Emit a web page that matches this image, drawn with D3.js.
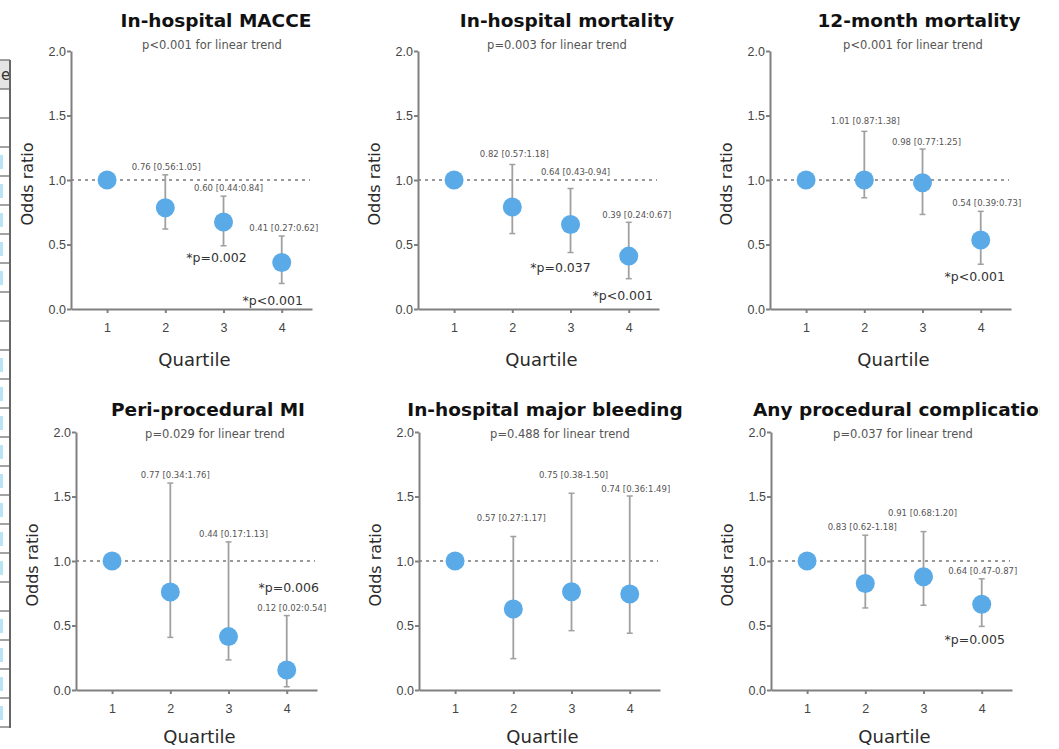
<!DOCTYPE html>
<meta charset="utf-8">
<style>
body { margin: 0; background: #fff; }
svg { display: block; font-family: "DejaVu Sans", Verdana, sans-serif; }
.axis path, .axis line { stroke: #808080; stroke-width: 2; }
.axis text { fill: #444; font-size: 12.5px; }
</style>
<body>
<script src="https://d3js.org/d3.v7.min.js"></script>
<script>

// chart data
var panelTitles = ["In-hospital MACCE", "In-hospital mortality", "12-month mortality",
                   "Peri-procedural MI", "In-hospital major bleeding", "Any procedural complication"];
var trendTexts = ["p<0.001 for linear trend", "p=0.003 for linear trend", "p<0.001 for linear trend",
                  "p=0.029 for linear trend", "p=0.488 for linear trend", "p=0.037 for linear trend"];
var quartiles = [1, 2, 3, 4];
var yTicks = [0, 0.5, 1, 1.5, 2];
var oddsRatios = [
  [1, 0.785, 0.674, 0.36],
  [1, 0.79, 0.655, 0.41],
  [1, 1.0, 0.978, 0.535],
  [1, 0.76, 0.414, 0.155],
  [1, 0.628, 0.762, 0.744],
  [1, 0.826, 0.878, 0.665]
];
var ciLower = [
  [null, 0.62, 0.49, 0.198],
  [null, 0.585, 0.438, 0.235],
  [null, 0.862, 0.733, 0.347],
  [null, 0.408, 0.233, 0.025],
  [null, 0.243, 0.46, 0.44],
  [null, 0.636, 0.657, 0.493]
];
var ciUpper = [
  [null, 1.04, 0.875, 0.566],
  [null, 1.12, 0.934, 0.672],
  [null, 1.377, 1.24, 0.757],
  [null, 1.604, 1.148, 0.577],
  [null, 1.19, 1.525, 1.504],
  [null, 1.20, 1.228, 0.862]
];
var ciLabels = [
  [null, "0.76 [0.56:1.05]", "0.60 [0.44:0.84]", "0.41 [0.27:0.62]"],
  [null, "0.82 [0.57:1.18]", "0.64 [0.43-0.94]", "0.39 [0.24:0.67]"],
  [null, "1.01 [0.87:1.38]", "0.98 [0.77:1.25]", "0.54 [0.39:0.73]"],
  [null, "0.77 [0.34:1.76]", "0.44 [0.17:1.13]", "0.12 [0.02:0.54]"],
  [null, "0.57 [0.27:1.17]", "0.75 [0.38-1.50]", "0.74 [0.36:1.49]"],
  [null, "0.83 [0.62-1.18]", "0.91 [0.68:1.20]", "0.64 [0.47-0.87]"]
];
var pLabels = [
  [null, null, "*p=0.002", "*p<0.001"],
  [null, null, "*p=0.037", "*p<0.001"],
  [null, null, null, "*p<0.001"],
  [null, null, null, "*p=0.006"],
  [null, null, null, null],
  [null, null, null, "*p=0.005"]
];
// rows of the cut-off table at the left edge (1 = blue cell marker)
var tableRows = [0,0,1,1,1,1,1,0,0,1,1,1,1,1,1,1,1,0,1,1,1,1];

// layout
var panelX = [71, 418, 770, 76, 419, 771],
    panelTop = [51, 51, 51, 432, 432, 432],
    plotH = 258, plotW = 241;
var titleX = [216, 567, 919, 208, 545, 753],
    subX = [212, 557, 913, 215, 560, 903];
var ciDx = [[0,1,5,2],[0,2,5,8],[0,1,4,6],[0,5,5,5],[0,-2,2,6],[0,-3,-1,1]],
    ciDy = [[0,-8,-8,-8],[0,-10,-16,-7],[0,-10,-7,-8],[0,-8,-8,-8],[0,-18,-18,-7],[0,-8,-19,-8]],
    pDx = [[0,0,-7,-9],[0,0,-10,-6],[0,0,0,-6],[0,0,0,2],[0,0,0,0],[0,0,0,-7]],
    pDy = [[0,0,12,17],[0,0,15,17],[0,0,0,12],[0,0,0,-99],[0,0,0,0],[0,0,0,13]];

var svg = d3.select("body").append("svg")
    .attr("width", 1059)
    .attr("height", 749);

svg.append("defs").append("clipPath").attr("id", "clipR")
  .append("rect").attr("x", 0).attr("y", 0).attr("width", 1040).attr("height", 749);

// table fragment on the left edge
var tbl = svg.append("g");
tbl.append("rect").attr("x", 0).attr("y", 60).attr("width", 10).attr("height", 29).attr("fill", "#e4e4e4");
tbl.append("text").attr("x", 1).attr("y", 80).attr("font-size", 15).attr("fill", "#333").text("e");
tableRows.forEach(function(f, i) {
  var ry = 89 + i * 29;
  if (f) tbl.append("rect").attr("x", 0).attr("y", ry + 8).attr("width", 3).attr("height", 14).attr("fill", "#b9e4f4");
});
[60].concat(tableRows.map(function(f, i) { return 89 + i * 29; })).concat([727]).forEach(function(ly) {
  tbl.append("line").attr("x1", 0).attr("x2", 10).attr("y1", ly).attr("y2", ly)
     .attr("stroke", "#666").attr("stroke-width", 1.2);
});
tbl.append("line").attr("x1", 10).attr("x2", 10).attr("y1", 60).attr("y2", 728)
   .attr("stroke", "#666").attr("stroke-width", 2);

panelTitles.forEach(function(title, p) {
  var g = svg.append("g").attr("transform", "translate(" + panelX[p] + "," + panelTop[p] + ")");
  var x = d3.scaleLinear().domain([0.38, 4.52]).range([0, plotW]);
  var y = d3.scaleLinear().domain([0, 2]).range([plotH, 0]);

  // reference line at OR = 1
  g.append("line")
    .attr("x1", 0).attr("x2", plotW - 2)
    .attr("y1", y(1)).attr("y2", y(1))
    .attr("stroke", "#999").attr("stroke-width", 2.2)
    .attr("stroke-dasharray", "3,4");

  g.append("g").attr("class", "axis")
    .call(d3.axisLeft(y).tickValues(yTicks).tickFormat(d3.format(".1f")).tickSize(4).tickSizeOuter(0).tickPadding(1));
  g.append("g").attr("class", "axis")
    .attr("transform", "translate(0," + plotH + ")")
    .call(d3.axisBottom(x).tickValues(quartiles).tickFormat(d3.format("d")).tickSize(4).tickSizeOuter(0).tickPadding(10));

  var rows = quartiles.map(function(q, i) {
    return {q: q, i: i, or: oddsRatios[p][i], lo: ciLower[p][i], hi: ciUpper[p][i],
            ci: ciLabels[p][i], pv: pLabels[p][i]};
  });
  var withCI = rows.filter(function(d) { return d.lo != null; });

  // error bars
  g.selectAll(".whisk").data(withCI).enter().append("line")
    .attr("x1", function(d) { return x(d.q); }).attr("x2", function(d) { return x(d.q); })
    .attr("y1", function(d) { return y(d.lo); }).attr("y2", function(d) { return y(d.hi); })
    .attr("stroke", "#a0a0a0").attr("stroke-width", 1.8);
  ["lo", "hi"].forEach(function(k) {
    g.selectAll(".cap" + k).data(withCI).enter().append("line")
      .attr("x1", function(d) { return x(d.q) - 3; }).attr("x2", function(d) { return x(d.q) + 3; })
      .attr("y1", function(d) { return y(d[k]); }).attr("y2", function(d) { return y(d[k]); })
      .attr("stroke", "#a0a0a0").attr("stroke-width", 1.5);
  });

  // points
  g.selectAll("circle").data(rows).enter().append("circle")
    .attr("cx", function(d) { return x(d.q); })
    .attr("cy", function(d) { return y(d.or); })
    .attr("r", 9.5)
    .attr("fill", "#5aaae8");

  // CI annotations
  g.selectAll(".ci").data(withCI).enter().append("text")
    .attr("x", function(d) { return x(d.q) + ciDx[p][d.i]; })
    .attr("y", function(d) { return y(d.hi) + ciDy[p][d.i]; })
    .attr("dy", "0.35em")
    .attr("text-anchor", "middle")
    .attr("font-size", 8.5).attr("fill", "#555")
    .text(function(d) { return d.ci; });

  g.selectAll(".pv").data(rows.filter(function(d) { return d.pv; })).enter().append("text")
    .attr("x", function(d) { return x(d.q) + pDx[p][d.i]; })
    .attr("y", function(d) { return y(d.lo) + pDy[p][d.i]; })
    .attr("dy", "0.35em")
    .attr("text-anchor", "middle")
    .attr("font-size", 12.5).attr("fill", "#333")
    .text(function(d) { return d.pv; });

  // axis titles
  g.append("text")
    .attr("transform", "translate(-44," + (y(1) + 4) + ") rotate(-90)")
    .attr("text-anchor", "middle").attr("dy", "0.35em")
    .attr("font-size", 16).attr("fill", "#2a2a2a")
    .text("Odds ratio");
  g.append("text")
    .attr("x", x(2.5)).attr("y", plotH + (p < 3 ? 57 : 53))
    .attr("text-anchor", "middle")
    .attr("font-size", 18).attr("fill", "#2a2a2a")
    .text("Quartile");

  // panel title and trend p-value
  var top = p < 3 ? 0 : 370;
  svg.append("text")
    .attr("x", titleX[p]).attr("y", top + (p < 3 ? 27 : 46))
    .attr("text-anchor", p === 5 ? "start" : "middle")
    .attr("font-size", 18.5).attr("font-weight", "bold").attr("fill", "#111")
    .attr("clip-path", "url(#clipR)")
    .text(title);
  svg.append("text")
    .attr("x", subX[p]).attr("y", top + (p < 3 ? 49 : 68))
    .attr("text-anchor", "middle")
    .attr("font-size", 11.5).attr("fill", "#555")
    .text(trendTexts[p]);
});

</script>
</body>
